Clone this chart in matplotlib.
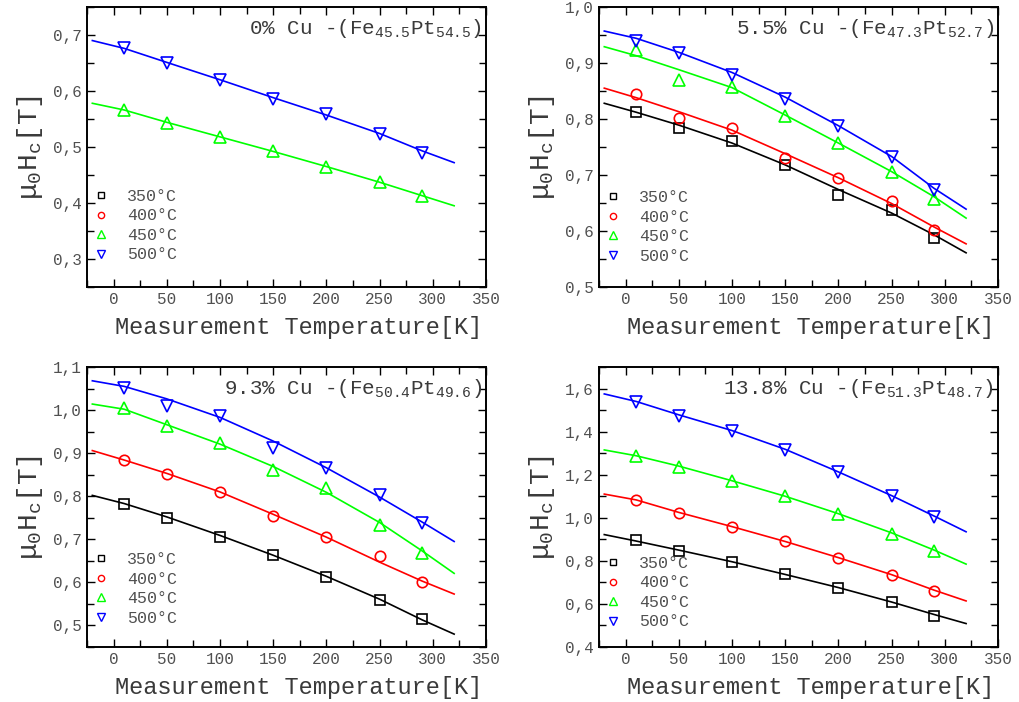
import numpy as np
import matplotlib.pyplot as plt
from matplotlib.lines import Line2D
from matplotlib.ticker import MultipleLocator

plt.rcParams['font.family'] = ['Liberation Mono', 'DejaVu Sans']
plt.rcParams['mathtext.fontset'] = 'custom'
plt.rcParams['mathtext.rm'] = 'Liberation Mono'
plt.rcParams['mathtext.it'] = 'Liberation Mono'
plt.rcParams['mathtext.default'] = 'rm'

# ----------------------------
# Data
# ----------------------------
temps = [10, 50, 100, 150, 200, 250, 290]          # measurement temperature [K]
fit_temps = [-20, 10, 50, 100, 150, 200, 250, 290, 320]
anneal = ["350°C", "400°C", "450°C", "500°C"]

# 0% Cu - Fe45.5Pt54.5 (only 450 and 500 °C)
p1_450 = [0.566, 0.543, 0.518, 0.492, 0.464, 0.437, 0.412]
p1_500 = [0.676, 0.650, 0.619, 0.586, 0.558, 0.523, 0.490]
p1_450_fit = [0.578, 0.566, 0.544, 0.518, 0.492, 0.465, 0.437, 0.413, 0.395]
p1_500_fit = [0.690, 0.676, 0.651, 0.620, 0.588, 0.557, 0.524, 0.493, 0.472]

# 5.5% Cu - Fe47.3Pt52.7
p2_350 = [0.8125, 0.784, 0.760, 0.717, 0.665, 0.637, 0.5875]
p2_400 = [0.844, 0.801, 0.783, 0.730, 0.695, 0.654, 0.601]
p2_450 = [0.923, 0.870, 0.857, 0.806, 0.757, 0.705, 0.657]
p2_500 = [0.940, 0.918, 0.879, 0.835, 0.787, 0.732, 0.674]
p2_350_fit = [0.828, 0.812, 0.789, 0.757, 0.718, 0.674, 0.632, 0.593, 0.561]
p2_400_fit = [0.855, 0.838, 0.813, 0.780, 0.738, 0.695, 0.649, 0.607, 0.577]
p2_450_fit = [0.929, 0.913, 0.888, 0.856, 0.807, 0.757, 0.706, 0.661, 0.623]
p2_500_fit = [0.957, 0.944, 0.919, 0.883, 0.839, 0.788, 0.733, 0.676, 0.639]

# 9.3% Cu - Fe50.4Pt49.6
p3_350 = [0.782, 0.749, 0.706, 0.664, 0.612, 0.559, 0.514]
p3_400 = [0.883, 0.851, 0.809, 0.754, 0.706, 0.662, 0.602]
p3_450 = [1.004, 0.962, 0.924, 0.860, 0.820, 0.734, 0.668]
p3_500 = [1.052, 1.010, 0.986, 0.913, 0.866, 0.802, 0.737]
p3_350_fit = [0.802, 0.783, 0.752, 0.709, 0.663, 0.614, 0.561, 0.513, 0.480]
p3_400_fit = [0.906, 0.884, 0.853, 0.810, 0.758, 0.705, 0.647, 0.603, 0.573]
p3_450_fit = [1.014, 1.002, 0.966, 0.921, 0.869, 0.809, 0.739, 0.673, 0.621]
p3_500_fit = [1.068, 1.055, 1.026, 0.983, 0.928, 0.866, 0.798, 0.740, 0.695]

# 13.8% Cu - Fe51.3Pt48.7
p4_350 = [0.896, 0.847, 0.795, 0.740, 0.673, 0.608, 0.546]
p4_400 = [1.081, 1.020, 0.958, 0.890, 0.812, 0.733, 0.661]
p4_450 = [1.285, 1.237, 1.169, 1.101, 1.017, 0.927, 0.845]
p4_500 = [1.536, 1.473, 1.405, 1.316, 1.211, 1.101, 1.005]
p4_350_fit = [0.922, 0.892, 0.850, 0.796, 0.737, 0.676, 0.609, 0.551, 0.509]
p4_400_fit = [1.110, 1.083, 1.025, 0.959, 0.890, 0.815, 0.736, 0.664, 0.614]
p4_450_fit = [1.315, 1.288, 1.240, 1.172, 1.100, 1.019, 0.930, 0.850, 0.785]
p4_500_fit = [1.575, 1.540, 1.478, 1.405, 1.318, 1.213, 1.103, 1.008, 0.935]

titles = [
    "0% Cu -(Fe$_{45.5}$Pt$_{54.5}$)",
    "5.5% Cu -(Fe$_{47.3}$Pt$_{52.7}$)",
    "9.3% Cu -(Fe$_{50.4}$Pt$_{49.6}$)",
    "13.8% Cu -(Fe$_{51.3}$Pt$_{48.7}$)",
]
ylims = [(0.25, 0.75), (0.5, 1.0), (0.45, 1.1), (0.4, 1.7)]
ysteps = [0.1, 0.1, 0.1, 0.2]
legend_y = [0.064, 0.06, 0.053, 0.039]

panels = [
    {"450°C": (p1_450, p1_450_fit), "500°C": (p1_500, p1_500_fit)},
    {"350°C": (p2_350, p2_350_fit), "400°C": (p2_400, p2_400_fit),
     "450°C": (p2_450, p2_450_fit), "500°C": (p2_500, p2_500_fit)},
    {"350°C": (p3_350, p3_350_fit), "400°C": (p3_400, p3_400_fit),
     "450°C": (p3_450, p3_450_fit), "500°C": (p3_500, p3_500_fit)},
    {"350°C": (p4_350, p4_350_fit), "400°C": (p4_400, p4_400_fit),
     "450°C": (p4_450, p4_450_fit), "500°C": (p4_500, p4_500_fit)},
]

colors = {"350°C": "black", "400°C": "#ff0000", "450°C": "#00ff00", "500°C": "#0000ff"}
markers = {"350°C": "s", "400°C": "o", "450°C": "^", "500°C": "v"}
msizes = {"350°C": 6.5, "400°C": 7.5, "450°C": 9, "500°C": 9}

# ----------------------------
# Plot
# ----------------------------
fig = plt.figure(figsize=(10.19, 7.02), dpi=100)
lefts = [0.0854, 0.5878, 0.0854, 0.5878]
bottoms = [0.5912, 0.5912, 0.0783, 0.0783]
tick_color = "#505050"
text_color = "#3a3a3a"

for i in range(4):
    ax = fig.add_axes([lefts[i], bottoms[i], 0.3916, 0.3989])
    for name, (vals, fit) in panels[i].items():
        ax.plot(fit_temps, fit, color=colors[name], lw=1.2)
        ax.plot(temps, vals, ls="none", marker=markers[name], ms=msizes[name],
                mfc="none", mec=colors[name], mew=1.2)

    ax.set_xlim(-25, 350)
    ax.set_ylim(*ylims[i])
    ax.xaxis.set_major_locator(MultipleLocator(50))
    ax.xaxis.set_minor_locator(MultipleLocator(25))
    ax.yaxis.set_major_locator(MultipleLocator(ysteps[i]))
    ax.yaxis.set_minor_locator(MultipleLocator(ysteps[i] / 2))
    ax.yaxis.set_major_formatter(lambda v, p: f"{v:.1f}".replace(".", ","))
    ax.tick_params(which="both", direction="in", top=True, right=True,
                   labelsize=11.5, labelcolor=tick_color, width=1)
    ax.tick_params(which="major", length=6)
    ax.tick_params(which="minor", length=5)
    for s in ax.spines.values():
        s.set_linewidth(1.4)

    ax.set_xlabel("Measurement Temperature[K]", fontsize=17, color=text_color)
    ax.xaxis.set_label_coords(0.531, -0.105)
    ax.set_ylabel("μ$_0$H$_c$[T]", fontsize=20, color=text_color)
    ax.yaxis.set_label_coords(-0.105, 0.5)

    ax.text(0.99, 0.905, titles[i], transform=ax.transAxes, ha="right",
            va="baseline", fontsize=15, color=text_color)

    handles = [Line2D([], [], ls="none", marker=markers[n], ms=msizes[n] * 0.6,
                      mfc="none", mec=colors[n], mew=1) for n in anneal]
    ax.legend(handles, anneal, loc="lower left", bbox_to_anchor=(0.0, legend_y[i]),
              frameon=False, fontsize=12, handlelength=0.9, handletextpad=1.1,
              labelspacing=0.27, borderaxespad=0, labelcolor=tick_color)

fig.savefig("out.png", dpi=100)
